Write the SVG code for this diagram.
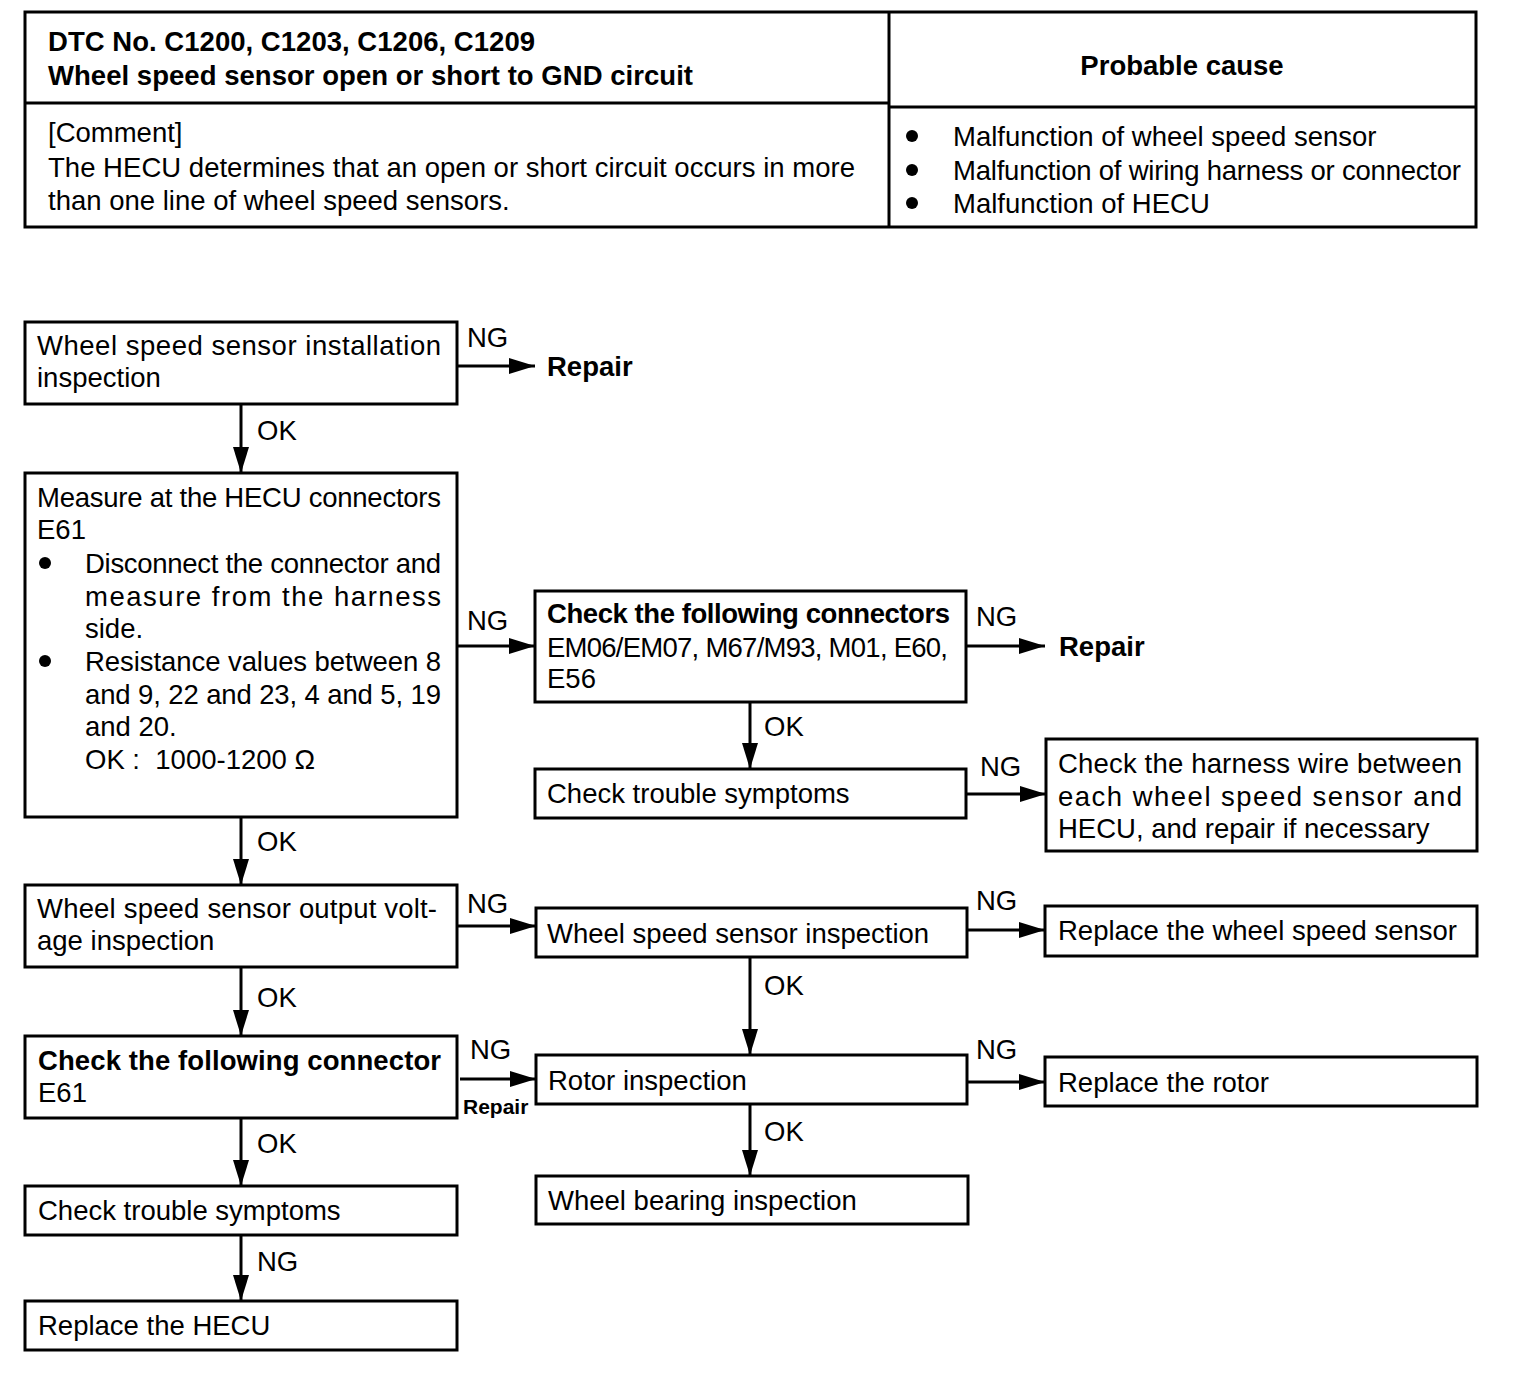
<svg xmlns="http://www.w3.org/2000/svg" width="1536" height="1392" viewBox="0 0 1536 1392">
<style>
text{font-family:"Liberation Sans",Arial,Helvetica,sans-serif;font-size:27.5px;fill:#000}
.b{font-weight:bold}
.sm{font-size:21px;font-weight:bold}
.box{fill:#fff;stroke:#000;stroke-width:3}
.ln{fill:none;stroke:#000;stroke-width:3}
.cn{fill:none;stroke:#000;stroke-width:3;marker-end:url(#ah)}
</style>
<defs>
<marker id="ah" markerUnits="userSpaceOnUse" markerWidth="26" markerHeight="16" refX="26" refY="8" orient="auto">
<path d="M0,0 L26,8 L0,16 z" fill="#000"/>
</marker>
</defs>
<rect width="1536" height="1392" fill="#fff"/>

<g id="table">
<rect class="box" x="25" y="12" width="1451" height="215"/>
<line class="ln" x1="889" y1="12" x2="889" y2="227"/>
<line class="ln" x1="25" y1="103" x2="889" y2="103"/>
<line class="ln" x1="889" y1="107" x2="1476" y2="107"/>
<text class="b" x="48" y="51" textLength="487">DTC No. C1200, C1203, C1206, C1209</text>
<text class="b" x="48" y="85" textLength="645">Wheel speed sensor open or short to GND circuit</text>
<text class="b" x="1182" y="75" text-anchor="middle">Probable cause</text>
<text x="48" y="142">[Comment]</text>
<text x="48" y="177" textLength="807">The HECU determines that an open or short circuit occurs in more</text>
<text x="48" y="210">than one line of wheel speed sensors.</text>
<circle cx="912" cy="136" r="6"/>
<circle cx="912" cy="170" r="6"/>
<circle cx="912" cy="203" r="6"/>
<text x="953" y="146">Malfunction of wheel speed sensor</text>
<text x="953" y="180" textLength="508">Malfunction of wiring harness or connector</text>
<text x="953" y="213">Malfunction of HECU</text>
</g>

<g id="connectors">
<line class="cn" x1="457" y1="366" x2="535" y2="366"/>
<line class="cn" x1="241" y1="404" x2="241" y2="473"/>
<line class="cn" x1="457" y1="646" x2="535" y2="646"/>
<line class="cn" x1="966" y1="646" x2="1045" y2="646"/>
<line class="cn" x1="750" y1="702" x2="750" y2="769"/>
<line class="cn" x1="966" y1="794" x2="1046" y2="794"/>
<line class="cn" x1="241" y1="817" x2="241" y2="885"/>
<line class="cn" x1="457" y1="926" x2="536" y2="926"/>
<line class="cn" x1="967" y1="930" x2="1045" y2="930"/>
<line class="cn" x1="750" y1="957" x2="750" y2="1055"/>
<line class="cn" x1="241" y1="967" x2="241" y2="1036"/>
<line class="cn" x1="460" y1="1079" x2="536" y2="1079"/>
<line class="cn" x1="967" y1="1082" x2="1045" y2="1082"/>
<line class="cn" x1="750" y1="1104" x2="750" y2="1176"/>
<line class="cn" x1="241" y1="1118" x2="241" y2="1186"/>
<line class="cn" x1="241" y1="1235" x2="241" y2="1301"/>
<text x="467" y="347">NG</text>
<text class="b" x="547" y="376">Repair</text>
<text x="257" y="440">OK</text>
<text x="467" y="630">NG</text>
<text x="976" y="626">NG</text>
<text class="b" x="1059" y="656">Repair</text>
<text x="764" y="736">OK</text>
<text x="980" y="776">NG</text>
<text x="257" y="851">OK</text>
<text x="467" y="913">NG</text>
<text x="976" y="910">NG</text>
<text x="764" y="995">OK</text>
<text x="257" y="1007">OK</text>
<text x="470" y="1059">NG</text>
<text class="sm" x="463" y="1114">Repair</text>
<text x="976" y="1059">NG</text>
<text x="764" y="1141">OK</text>
<text x="257" y="1153">OK</text>
<text x="257" y="1271">NG</text>
</g>

<g id="n1">
<rect class="box" x="25" y="322" width="432" height="82"/>
<text x="37" y="355" textLength="404">Wheel speed sensor installation</text>
<text x="37" y="387">inspection</text>
</g>

<g id="n2">
<rect class="box" x="25" y="473" width="432" height="344"/>
<text x="37" y="507" textLength="404">Measure at the HECU connectors</text>
<text x="37" y="539">E61</text>
<circle cx="45" cy="563" r="6"/>
<text x="85" y="573" textLength="356">Disconnect the connector and</text>
<text x="85" y="606" textLength="356">measure from the harness</text>
<text x="85" y="638">side.</text>
<circle cx="45" cy="661" r="6"/>
<text x="85" y="671" textLength="356">Resistance values between 8</text>
<text x="85" y="704" textLength="356">and 9, 22 and 23, 4 and 5, 19</text>
<text x="85" y="736">and 20.</text>
<text x="85" y="769" xml:space="preserve">OK :  1000-1200 Ω</text>
</g>

<g id="n3">
<rect class="box" x="535" y="591" width="431" height="111"/>
<text class="b" x="547" y="623" textLength="403">Check the following connectors</text>
<text x="547" y="657" textLength="401">EM06/EM07, M67/M93, M01, E60,</text>
<text x="547" y="688">E56</text>
</g>

<g id="n4">
<rect class="box" x="535" y="769" width="431" height="49"/>
<text x="547" y="803">Check trouble symptoms</text>
</g>

<g id="n5">
<rect class="box" x="1046" y="739" width="431" height="112"/>
<text x="1058" y="773" textLength="404">Check the harness wire between</text>
<text x="1058" y="806" textLength="404">each wheel speed sensor and</text>
<text x="1058" y="838">HECU, and repair if necessary</text>
</g>

<g id="n6">
<rect class="box" x="25" y="885" width="432" height="82"/>
<text x="37" y="918" textLength="400">Wheel speed sensor output volt-</text>
<text x="37" y="950">age inspection</text>
</g>

<g id="n7">
<rect class="box" x="536" y="908" width="431" height="49"/>
<text x="547" y="943">Wheel speed sensor inspection</text>
</g>

<g id="n8">
<rect class="box" x="1045" y="906" width="432" height="50"/>
<text x="1058" y="940">Replace the wheel speed sensor</text>
</g>

<g id="n9">
<rect class="box" x="25" y="1036" width="432" height="82"/>
<text class="b" x="38" y="1070" textLength="403">Check the following connector</text>
<text x="38" y="1102">E61</text>
</g>

<g id="n10">
<rect class="box" x="536" y="1055" width="431" height="49"/>
<text x="548" y="1090">Rotor inspection</text>
</g>

<g id="n11">
<rect class="box" x="1045" y="1057" width="432" height="49"/>
<text x="1058" y="1092">Replace the rotor</text>
</g>

<g id="n12">
<rect class="box" x="536" y="1176" width="432" height="48"/>
<text x="548" y="1210">Wheel bearing inspection</text>
</g>

<g id="n13">
<rect class="box" x="25" y="1186" width="432" height="49"/>
<text x="38" y="1220">Check trouble symptoms</text>
</g>

<g id="n14">
<rect class="box" x="25" y="1301" width="432" height="49"/>
<text x="38" y="1335">Replace the HECU</text>
</g>
</svg>
